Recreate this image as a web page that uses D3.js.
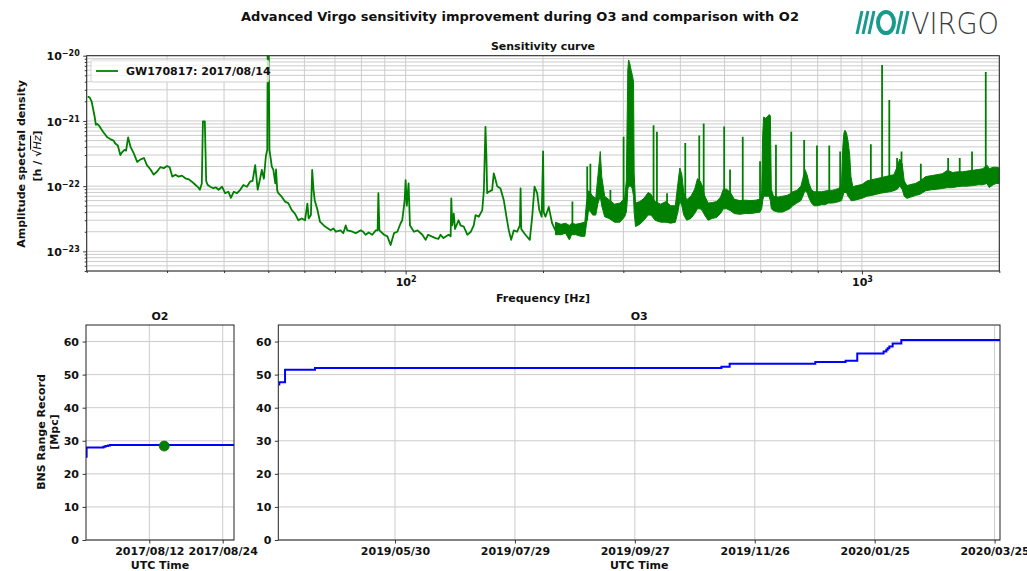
<!DOCTYPE html>
<html><head><meta charset="utf-8">
<script src="https://cdn.jsdelivr.net/npm/d3@7"></script>
<style>
body{margin:0;background:#fff;}
svg{display:block;}
text{font-family:"DejaVu Sans",sans-serif;}
</style>
</head><body>
<svg id="c" width="1027" height="571"></svg>
<script>
// ---------------- DATA ----------------
const mainTitle = "Advanced Virgo sensitivity improvement during O3 and comparison with O2";
const topTitle = "Sensitivity curve";
const legendLabel = "GW170817: 2017/08/14";
const freqDomain = [20, 2000];
const asdDomain = [5e-24, 1e-20];
const freqMajorTicks = [100, 1000];
const asdMajorTicks = [1e-23, 1e-22, 1e-21, 1e-20];

// thin part of the ASD trace [Hz, strain/sqrt(Hz)]
const asdTrace = [
[20.1,2.35e-21],[20.3,2.3e-21],[20.5,2.0e-21],[20.8,1.2e-21],[20.95,8.7e-22],[21.1,9.0e-22],[21.3,8.4e-22],[21.5,7.6e-22],
[21.8,6.6e-22],[22.2,5.6e-22],[22.6,5.2e-22],[22.9,5.0e-22],[23.1,4.5e-22],[23.4,4.2e-22],[23.7,3.0e-22],[23.9,3.3e-22],
[24.2,3.6e-22],[24.4,3.5e-22],[24.65,5.6e-22],[24.95,4.0e-22],[25.35,3.2e-22],[25.8,2.35e-22],[26.2,2.55e-22],[26.7,2.7e-22],
[27.1,2.1e-22],[27.6,1.8e-22],[28.05,1.5e-22],[28.5,1.66e-22],[29.0,1.95e-22],[29.5,1.88e-22],[30.0,2.04e-22],[30.4,1.95e-22],
[30.8,1.4e-22],[31.3,1.5e-22],[31.8,1.4e-22],[32.35,1.45e-22],[32.9,1.32e-22],[33.5,1.27e-22],[34.0,1.17e-22],[34.6,1.05e-22],
[35.1,9.6e-23],[35.4,8.8e-23],[35.75,1.1e-22],[35.95,9.8e-22],[36.3,9.8e-22],[36.55,1.2e-22],[36.8,1.05e-22],[37.3,9.8e-23],
[37.9,9.3e-23],[38.4,9.6e-23],[38.9,8.8e-23],[39.6,9.8e-23],[40.2,7.8e-23],[40.9,8.2e-23],[41.4,6.6e-23],[42.0,8.2e-23],
[42.7,7.8e-23],[43.4,8.8e-23],[44.1,1.04e-22],[44.9,9.8e-23],[45.6,1.17e-22],[46.2,1.2e-22],[46.8,2.1e-22],[47.4,8.8e-23],
[48.0,1.32e-22],[48.4,1.77e-22],[48.9,1.3e-22],[49.4,2.9e-22],[49.75,3.6e-22],[49.85,2e-20],[50.1,2e-20],[50.3,3.6e-22],
[50.9,2.0e-22],[51.3,1.77e-22],[51.8,1.1e-22],[52.0,1.8e-22],[52.3,8.6e-23],[52.6,7.8e-23],[53.5,6.9e-23],[54.4,5.8e-23],
[55.3,5.5e-23],[56.3,4.3e-23],[57.2,3.8e-23],[58.2,3.0e-23],[59.2,3.2e-23],[60.2,3.0e-23],[60.9,5.4e-23],[61.3,3.2e-23],
[62.0,3.6e-23],[62.4,1.77e-22],[62.8,9.0e-23],[63.2,6.1e-23],[64.1,4.3e-23],[64.9,2.85e-23],[66.6,2.4e-23],[68.5,2.1e-23],
[69.5,2.25e-23],[70.3,2.0e-23],[72.0,2.1e-23],[73.0,1.9e-23],[73.9,2.5e-23],[74.5,2.1e-23],[76.5,2.0e-23],[77.7,1.9e-23],
[79.7,2.1e-23],[80.7,2.0e-23],[81.7,1.8e-23],[83.0,1.95e-23],[84.5,1.8e-23],[86.0,2.1e-23],[86.8,2.1e-23],[87.15,7.8e-23],
[87.6,2.1e-23],[89.7,1.8e-23],[91.2,1.7e-23],[92.7,1.25e-23],[94.3,1.9e-23],[95.9,2.0e-23],[97.5,2.7e-23],[98.3,3.0e-23],
[99.5,6.0e-23],[100.0,1.24e-22],[100.6,5.0e-23],[101.5,1.1e-22],[102.2,2.5e-23],[104.3,2.0e-23],[106.2,2.1e-23],[108.8,1.8e-23],
[110.6,1.5e-23],[112,1.8e-23],[114,1.7e-23],[116.3,1.6e-23],[118,1.55e-23],[119.3,1.8e-23],[121,1.6e-23],[124.2,1.8e-23],
[125.5,1.7e-23],[125.9,6.5e-23],[126.5,2.5e-23],[127.5,3.8e-23],[128.3,2.2e-23],[130.6,3.0e-23],[131.9,2.5e-23],[134.1,2.4e-23],
[136.5,1.8e-23],[139,2.0e-23],[141,2.5e-23],[142.3,3.6e-23],[144.7,3.4e-23],[147.2,4.3e-23],[148.4,8.7e-23],[149.6,8.1e-22],
[150.3,3.0e-22],[150.9,7.8e-23],[152.1,8.2e-23],[154.7,8.7e-23],[156.0,1.57e-22],[157.2,1.3e-22],[158.7,1.0e-22],[161.4,9.2e-23],
[164.1,6.1e-23],[166.3,3.4e-23],[168.3,2.1e-23],[170.3,1.5e-23],[172.6,2.1e-23],[175.5,2.0e-23],[178.0,2.5e-23],[178.6,9.2e-23],
[179.2,2.2e-23],[181,2.0e-23],[183,1.8e-23],[187.1,1.5e-23],[189.4,3.4e-23],[191.6,9.8e-23],[194.2,7.8e-23],[196.3,4.3e-23],
[198.7,3.4e-23],[200.1,3.4e-22],[200.7,4.0e-23],[202.5,3.4e-23],[205.9,4.8e-23],[209.4,2.7e-23],[212.9,2.1e-23]
];

// noisy high-frequency part: [Hz, lower edge, upper edge]
const asdBand = [
[213,1.8e-23,2.8e-23],[219,1.8e-23,2.6e-23],[224,1.9e-23,2.7e-23],[228.5,1.5e-23,2.5e-23],[231,1.8e-23,2.7e-23],[236,1.8e-23,2.6e-23],
[242,1.7e-23,2.7e-23],[247,1.7e-23,2.8e-23],[249,2.6e-23,5.5e-23],[252,4.5e-23,8.5e-23],[257,3.6e-23,7.0e-23],[261,3.6e-23,6.5e-23],
[264,5.5e-23,1.5e-22],[267,7.0e-23,3.4e-22],[269,5.0e-23,1.4e-22],[273,3.4e-23,7.0e-23],[279,3.2e-23,6.2e-23],[287,2.8e-23,5.3e-23],
[295,2.8e-23,5.5e-23],[302,3.4e-23,6.5e-23],[304.5,4.0e-23,1.2e-22],[305.5,5.0e-23,6.0e-22],[306.8,9.0e-23,6.0e-21],[308.1,1.0e-22,8.6e-21],
[310,1.0e-22,7.5e-21],[312,1.0e-22,6.0e-21],[314,9.0e-23,5.0e-21],[315.8,7.0e-23,4.0e-21],[316.8,4.0e-23,1.6e-22],[319,2.4e-23,5.5e-23],
[326,2.6e-23,5.8e-23],[333,3.0e-23,6.5e-23],[340,3.6e-23,8.0e-23],[345,3.6e-23,7.5e-23],[352,3.0e-23,5.8e-23],[362,2.8e-23,5.3e-23],
[372,2.8e-23,5.8e-23],[381,2.7e-23,5.0e-23],[390,2.8e-23,5.0e-23],[395,4.0e-23,1.1e-22],[399,6.0e-23,1.9e-22],[403,5.0e-23,1.5e-22],
[407,3.6e-23,8.0e-23],[413,3.0e-23,6.2e-23],[422,3.2e-23,7.0e-23],[430,3.8e-23,9.0e-23],[436,4.5e-23,1.3e-22],[442,4.5e-23,1.2e-22],
[447,4.2e-23,1.0e-22],[452,3.6e-23,7.2e-23],[460,3.0e-23,5.5e-23],[470,3.2e-23,5.6e-23],[480,3.3e-23,5.8e-23],[490,3.8e-23,6.8e-23],
[497,4.5e-23,9.0e-23],[505,4.5e-23,9.0e-23],[515,4.2e-23,8.0e-23],[525,3.8e-23,6.3e-23],[540,3.7e-23,6.0e-23],[555,3.8e-23,6.1e-23],
[570,3.8e-23,6.0e-23],[585,3.9e-23,6.1e-23],[598,4.0e-23,6.3e-23],[603,4.5e-23,8.5e-23],[606,6.0e-23,6.0e-22],[609,7.0e-23,1.15e-21],
[615,7.0e-23,1.1e-21],[620,7.0e-23,1.15e-21],[626,7.0e-23,1.25e-21],[630,6.0e-23,1.2e-21],[633,4.5e-23,9.0e-23],[640,4.2e-23,7.0e-23],
[655,4.0e-23,6.8e-23],[670,4.0e-23,7.0e-23],[685,4.3e-23,7.2e-23],[695,4.5e-23,7.6e-23],[705,5.0e-23,8.2e-23],[720,5.5e-23,8.6e-23],
[735,6.0e-23,1.0e-22],[742,7.0e-23,1.3e-22],[750,8.5e-23,1.8e-22],[758,8.0e-23,1.5e-22],[766,6.5e-23,1.1e-22],[775,5.5e-23,8.8e-23],
[785,5.0e-23,8.2e-23],[800,5.0e-23,8.2e-23],[815,5.2e-23,8.2e-23],[830,5.2e-23,8.4e-23],[845,5.5e-23,8.6e-23],[860,5.5e-23,8.6e-23],
[875,5.6e-23,8.9e-23],[890,5.8e-23,9.2e-23],[902,6.0e-23,1.1e-22],[908,7.0e-23,4.0e-22],[913,8.0e-23,6.5e-22],[918,8.0e-23,7.2e-22],
[925,8.0e-23,6.5e-22],[932,7.0e-23,5.0e-22],[940,6.5e-23,3.0e-22],[946,6.0e-23,1.4e-22],[955,6.0e-23,9.8e-23],[975,6.2e-23,1.02e-22],
[1000,6.5e-23,1.06e-22],[1025,7.0e-23,1.2e-22],[1050,7.2e-23,1.25e-22],[1075,7.5e-23,1.3e-22],[1100,7.8e-23,1.35e-22],[1125,8.0e-23,1.4e-22],
[1150,8.2e-23,1.45e-22],[1175,8.5e-23,1.5e-22],[1195,9.0e-23,2.0e-22],[1210,1.0e-22,2.6e-22],[1225,9.0e-23,2.2e-22],[1238,7.0e-23,1.2e-22],
[1255,6.5e-23,1.02e-22],[1280,6.8e-23,1.06e-22],[1310,7.2e-23,1.1e-22],[1340,7.5e-23,1.2e-22],[1380,8.5e-23,1.4e-22],[1420,8.8e-23,1.45e-22],
[1460,9.0e-23,1.5e-22],[1500,9.2e-23,1.55e-22],[1540,9.5e-23,1.75e-22],[1580,9.5e-23,1.62e-22],[1620,9.8e-23,1.66e-22],[1660,1.0e-22,1.66e-22],
[1700,1.0e-22,1.7e-22],[1750,1.02e-22,1.75e-22],[1800,1.05e-22,1.8e-22],[1840,1.05e-22,1.85e-22],[1880,1.1e-22,2.1e-22],[1900,9.5e-23,1.85e-22],
[1940,1.05e-22,1.95e-22],[1970,1.1e-22,1.95e-22],[2000,1.1e-22,1.9e-22]
];

// narrow spectral lines: [Hz, foot, peak]
const asdLines = [
[232,2.5e-23,5.8e-23],[250,3e-23,2.0e-22],[254,4e-23,2.2e-22],[281,5e-23,8.7e-23],[300.4,5e-23,5.7e-22],[349.4,5e-23,8.6e-22],
[355.4,5e-23,6.8e-22],[374,4e-23,7.8e-23],[410,5e-23,4.6e-22],[440,6e-23,6.0e-22],[450,6e-23,9.1e-22],[499,6e-23,8.2e-22],
[514,6e-23,1.8e-22],[548,5e-23,5.7e-22],[598,5e-23,2.4e-22],[648,5e-23,4.3e-22],[700,6e-23,6.8e-22],[747,9e-23,5.1e-22],
[797,6e-23,4.2e-22],[848,6e-23,4.2e-22],[896,7e-23,3.4e-22],[1046,8e-23,4.4e-22],[1107,9e-23,7.2e-21],[1148,9e-23,2.1e-21],
[1194,1e-22,2.7e-22],[1221,1e-22,3.4e-22],[1346,1e-22,2.2e-22],[1545,1.2e-22,2.7e-22],[1638,1.2e-22,2.7e-22],[1743,1.2e-22,3.4e-22],
[1868,1.3e-22,5.6e-21]
];

// BNS range record
const rangeTicks = [0, 10, 20, 30, 40, 50, 60];
const rangeDomain = [0, 65];
const o2Title = "O2", o3Title = "O3";
const o2Window = ["2017-08-01T15:36:00Z", "2017-08-25T20:20:00Z"];
const o3Window = ["2019-04-01T15:00:00Z", "2020-03-27T17:00:00Z"];
const o2TickLabels = ["2017/08/12", "2017/08/24"];
const o3TickLabels = ["2019/05/30", "2019/07/29", "2019/09/27", "2019/11/26", "2020/01/25", "2020/03/25"];
const o2Dates = ["2017-08-01T15:36:00Z","2017-08-01T18:00:00Z","2017-08-04T12:00:00Z","2017-08-04T20:00:00Z","2017-08-05T06:00:00Z","2017-08-05T14:00:00Z","2017-08-25T20:20:00Z"];
const o2Range = [25.2, 28.0, 28.2, 28.4, 28.6, 28.7, 28.7];
const o2EventDate = "2017-08-14T10:30:00Z";
const o2EventRange = 28.4;
const o3Dates = ["2019-04-01T15:00:00Z","2019-04-02T03:00:00Z","2019-04-05T00:00:00Z","2019-04-20T00:00:00Z","2019-11-09T08:00:00Z",
  "2019-11-13T11:00:00Z","2019-12-26T07:00:00Z","2020-01-10T11:00:00Z","2020-01-16T07:00:00Z","2020-01-29T11:00:00Z",
  "2020-01-30T20:00:00Z","2020-01-31T12:00:00Z","2020-02-01T08:00:00Z","2020-02-03T00:00:00Z","2020-02-07T08:00:00Z","2020-03-27T17:00:00Z"];
const o3Range = [47.0, 47.7, 51.5, 52.0, 52.4, 53.25, 53.8, 54.2, 56.4, 57.0, 57.5, 58.0, 58.5, 59.4, 60.5, 60.5];

// ---------------- DRAW ----------------
const svg = d3.select("#c");
const GREEN = "#008000", BLUE = "#0000ff", GRID = "#cccccc", INK = "#222";
const FONT = "'DejaVu Sans', sans-serif";

function styleAxis(g) {
  g.attr("font-family", FONT).attr("font-size", 11).attr("font-weight", "bold");
  g.select(".domain").remove();
  g.selectAll(".tick line").attr("stroke", INK).attr("stroke-width", 0.9);
  g.selectAll(".tick text").attr("fill", "#111");
}

svg.append("text").attr("x", 520).attr("y", 21).attr("text-anchor", "middle")
  .attr("font-size", 13).attr("font-weight", "bold").attr("fill", "#111").text(mainTitle);

// ---- top panel ----
const P1 = {l: 86.7, r: 999.3, t: 55.7, b: 271};
const x = d3.scaleLog().domain(freqDomain).range([P1.l, P1.r]);
const y = d3.scaleLog().domain(asdDomain).range([P1.b, P1.t]);

const xMinor = [], yMinor = [];
[10, 100, 1000].forEach(d => { for (let k = 1; k <= 9; k++) { const v = k * d; if (v >= freqDomain[0] && v <= freqDomain[1]) xMinor.push(v); } });
[1e-24, 1e-23, 1e-22, 1e-21].forEach(d => { for (let k = 1; k <= 9; k++) { const v = k * d; if (v >= asdDomain[0] * 0.999 && v <= asdDomain[1] * 1.001) yMinor.push(v); } });
yMinor.push(1e-20);

const grid1 = svg.append("g");
grid1.selectAll(".gx").data(xMinor).join("line")
  .attr("x1", d => x(d)).attr("x2", d => x(d)).attr("y1", P1.t).attr("y2", P1.b)
  .attr("stroke", GRID).attr("stroke-width", 1);
grid1.selectAll(".gy").data(yMinor).join("line")
  .attr("y1", d => y(d)).attr("y2", d => y(d)).attr("x1", P1.l).attr("x2", P1.r)
  .attr("stroke", GRID).attr("stroke-width", 1);

svg.append("clipPath").attr("id", "clip1").append("rect")
  .attr("x", P1.l).attr("y", P1.t).attr("width", P1.r - P1.l).attr("height", P1.b - P1.t);
const plot1 = svg.append("g").attr("clip-path", "url(#clip1)");

plot1.append("path").datum(asdTrace)
  .attr("d", d3.line().x(d => x(d[0])).y(d => y(d[1])))
  .attr("fill", "none").attr("stroke", GREEN).attr("stroke-width", 1.8).attr("stroke-linejoin", "round");
plot1.append("path").datum(asdBand)
  .attr("d", d3.area().x(d => x(d[0])).y0(d => y(d[1])).y1(d => y(d[2])))
  .attr("fill", GREEN).attr("stroke", GREEN).attr("stroke-width", 1.0).attr("stroke-linejoin", "round");
plot1.selectAll(".ln").data(asdLines).join("line")
  .attr("x1", d => x(d[0])).attr("x2", d => x(d[0]))
  .attr("y1", d => y(d[1])).attr("y2", d => y(d[2]))
  .attr("stroke", GREEN).attr("stroke-width", 1.8);

const ax1 = svg.append("g").attr("transform", `translate(0,${P1.b})`)
  .call(d3.axisBottom(x).tickValues(freqMajorTicks).tickSize(3.5).tickPadding(3.5));
styleAxis(ax1);
ax1.selectAll(".tick text").text(null).each(function(d) {
  const t = d3.select(this);
  t.append("tspan").text("10");
  t.append("tspan").attr("dy", "-0.45em").attr("font-size", 8).text(Math.round(Math.log10(d)));
});
const ax1m = svg.append("g").attr("transform", `translate(0,${P1.b})`)
  .call(d3.axisBottom(x).tickValues(xMinor.filter(v => !freqMajorTicks.includes(v))).tickSize(2).tickFormat(""));
styleAxis(ax1m);

const ay1 = svg.append("g").attr("transform", `translate(${P1.l},0)`)
  .call(d3.axisLeft(y).tickValues(asdMajorTicks).tickSize(3.5).tickPadding(3.5));
styleAxis(ay1);
ay1.selectAll(".tick text").text(null).attr("dy", "0.38em").each(function(d) {
  const t = d3.select(this);
  t.append("tspan").text("10");
  t.append("tspan").attr("dy", "-0.5em").attr("font-size", 8).text("\u2212" + Math.abs(Math.round(Math.log10(d))));
});
const ay1m = svg.append("g").attr("transform", `translate(${P1.l},0)`)
  .call(d3.axisLeft(y).tickValues(yMinor.filter(v => !asdMajorTicks.some(m => Math.abs(m - v) / m < 1e-6))).tickSize(2).tickFormat(""));
styleAxis(ay1m);

svg.append("rect").attr("x", P1.l).attr("y", P1.t).attr("width", P1.r - P1.l).attr("height", P1.b - P1.t)
  .attr("fill", "none").attr("stroke", INK).attr("stroke-width", 1);

svg.append("text").attr("x", (P1.l + P1.r) / 2).attr("y", 50).attr("text-anchor", "middle")
  .attr("font-size", 11).attr("font-weight", "bold").attr("fill", "#111").text(topTitle);
svg.append("text").attr("x", (P1.l + P1.r) / 2).attr("y", 302).attr("text-anchor", "middle")
  .attr("font-size", 11).attr("font-weight", "bold").attr("fill", "#111").text("Frequency [Hz]");
svg.append("text").attr("transform", "translate(25,164) rotate(-90)").attr("text-anchor", "middle")
  .attr("font-size", 11).attr("font-weight", "bold").attr("fill", "#111").text("Amplitude spectral density");
const yl2 = svg.append("text").attr("transform", "translate(41,156) rotate(-90)").attr("text-anchor", "middle")
  .attr("font-size", 11).attr("font-weight", "bold").attr("fill", "#111");
yl2.append("tspan").text("[h / \u221A");
yl2.append("tspan").attr("font-style", "italic").attr("font-weight", "normal").style("text-decoration", "overline").text("Hz");
yl2.append("tspan").text("]");

// legend
const lg = svg.append("g");
lg.append("rect").attr("x", 91).attr("y", 60).attr("width", 178).attr("height", 22).attr("rx", 2.5)
  .attr("fill", "#fff").attr("fill-opacity", 0.8).attr("stroke", "#d6d6d6").attr("stroke-width", 1);
lg.append("line").attr("x1", 96).attr("x2", 118).attr("y1", 71).attr("y2", 71)
  .attr("stroke", GREEN).attr("stroke-width", 1.8);
lg.append("text").attr("x", 126).attr("y", 75).attr("font-size", 11).attr("font-weight", "bold")
  .attr("fill", "#111").text(legendLabel);

// ---- bottom panels ----
const parseISO = d3.isoParse;
const parseTick = d3.utcParse("%Y/%m/%d");
const fmtTick = d3.utcFormat("%Y/%m/%d");
const PB = {t: 325, b: 540};
const yR = d3.scaleLinear().domain(rangeDomain).range([PB.b, PB.t]);

function rangePanel(l, r, windowDates, tickLabels, dates, values, title, id) {
  const xs = d3.scaleUtc().domain(windowDates.map(parseISO)).range([l, r]);
  const ticks = tickLabels.map(parseTick);
  const g = svg.append("g");
  g.selectAll(".gv").data(ticks).join("line")
    .attr("x1", d => xs(d)).attr("x2", d => xs(d)).attr("y1", PB.t).attr("y2", PB.b)
    .attr("stroke", GRID).attr("stroke-width", 1);
  g.selectAll(".gh").data(rangeTicks).join("line")
    .attr("y1", d => yR(d)).attr("y2", d => yR(d)).attr("x1", l).attr("x2", r)
    .attr("stroke", GRID).attr("stroke-width", 1);
  svg.append("clipPath").attr("id", id).append("rect")
    .attr("x", l).attr("y", PB.t).attr("width", r - l).attr("height", PB.b - PB.t);
  const pts = dates.map((d, i) => [parseISO(d), values[i]]);
  const pg = svg.append("g").attr("clip-path", `url(#${id})`);
  pg.append("path").datum(pts)
    .attr("d", d3.line().curve(d3.curveStepAfter).x(d => xs(d[0])).y(d => yR(d[1])))
    .attr("fill", "none").attr("stroke", BLUE).attr("stroke-width", 2);
  const ax = svg.append("g").attr("transform", `translate(0,${PB.b})`)
    .call(d3.axisBottom(xs).tickValues(ticks).tickFormat(fmtTick).tickSize(3.5).tickPadding(3.5));
  styleAxis(ax);
  const ay = svg.append("g").attr("transform", `translate(${l},0)`)
    .call(d3.axisLeft(yR).tickValues(rangeTicks).tickSize(3.5).tickPadding(3.5));
  styleAxis(ay);
  svg.append("rect").attr("x", l).attr("y", PB.t).attr("width", r - l).attr("height", PB.b - PB.t)
    .attr("fill", "none").attr("stroke", INK).attr("stroke-width", 1);
  svg.append("text").attr("x", (l + r) / 2).attr("y", 320).attr("text-anchor", "middle")
    .attr("font-size", 11).attr("font-weight", "bold").attr("fill", "#111").text(title);
  svg.append("text").attr("x", (l + r) / 2).attr("y", 568.5).attr("text-anchor", "middle")
    .attr("font-size", 11).attr("font-weight", "bold").attr("fill", "#111").text("UTC Time");
  return {xs, pg};
}

const o2 = rangePanel(86, 234, o2Window, o2TickLabels, o2Dates, o2Range, o2Title, "clipO2");
o2.pg.append("circle").attr("cx", o2.xs(parseISO(o2EventDate))).attr("cy", yR(o2EventRange)).attr("r", 5)
  .attr("fill", GREEN).attr("stroke", "#1a6a1a").attr("stroke-width", 0.8);
rangePanel(278.3, 1000, o3Window, o3TickLabels, o3Dates, o3Range, o3Title, "clipO3");

svg.append("text").attr("transform", "translate(45,432) rotate(-90)").attr("text-anchor", "middle")
  .attr("font-size", 11).attr("font-weight", "bold").attr("fill", "#111").text("BNS Range Record");
svg.append("text").attr("transform", "translate(58,432) rotate(-90)").attr("text-anchor", "middle")
  .attr("font-size", 11).attr("font-weight", "bold").attr("fill", "#111").text("[Mpc]");

// ---- Virgo logo ----
const TEAL = "#1a9a8c";
const logo = svg.append("g");
[857, 863, 869].forEach(px => logo.append("line").attr("x1", px + 5).attr("y1", 11).attr("x2", px).attr("y2", 34)
  .attr("stroke", TEAL).attr("stroke-width", 3));
logo.append("ellipse").attr("cx", 886).attr("cy", 22.5).attr("rx", 8).attr("ry", 10.5)
  .attr("fill", "none").attr("stroke", TEAL).attr("stroke-width", 4);
[897, 903].forEach(px => logo.append("line").attr("x1", px + 5).attr("y1", 11).attr("x2", px).attr("y2", 34)
  .attr("stroke", TEAL).attr("stroke-width", 3));
logo.append("text").attr("x", 911).attr("y", 34).attr("font-size", 30).attr("font-weight", 200)
  .attr("fill", "#3a3a3a").attr("textLength", 88).attr("lengthAdjust", "spacingAndGlyphs").text("VIRGO");
</script>
</body></html>
